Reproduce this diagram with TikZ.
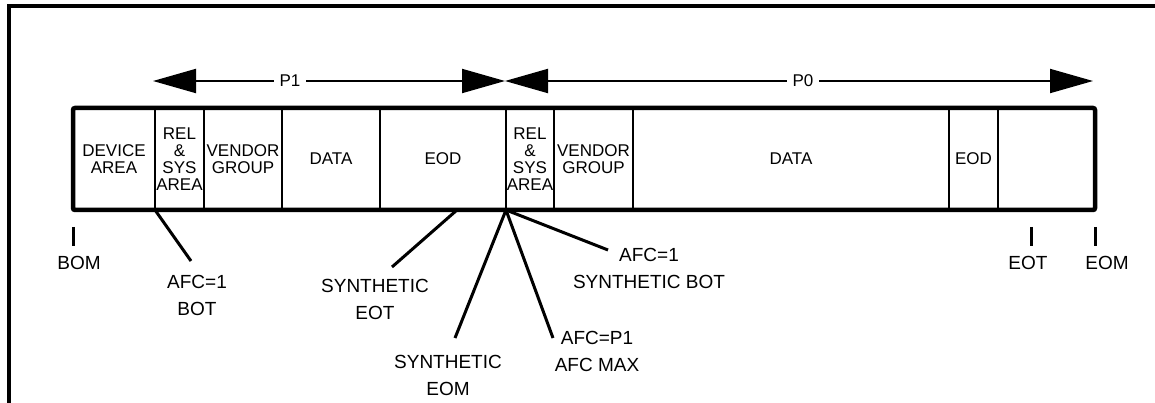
\documentclass[tikz,border=0pt]{standalone}
\usepackage{fontspec}
\setmainfont{Liberation Sans}
\usetikzlibrary{arrows.meta,positioning}

\begin{document}
\begin{tikzpicture}[x=1pt,y=-1pt,>={Triangle[length=43pt 0 0,width=24pt 0 0]},cell/.style={draw,line width=2.5pt,minimum height=102pt,inner sep=0pt,outer sep=0pt,align=center,font=\fontsize{17}{17}\selectfont},lbl/.style={inner sep=0pt,align=center,font=\fontsize{19}{27}\selectfont},plabel/.style={fill=white,inner xsep=6pt,inner ysep=2pt,font=\fontsize{17}{17}\selectfont},span/.style={<->,line width=2pt},leader/.style={line width=3pt},tick/.style={line width=3pt},frame/.style={line width=3.5pt}]
\useasboundingbox (0,0) rectangle (1155,403);
\draw[frame] (9,403) -- (9,6) -- (1160,6);
\coordinate (p1l) at (153,81); \coordinate (mid) at (505,81); \coordinate (p0r) at (1093,81);
\draw[span] (p1l)--(mid); \draw[span] (mid)--(p0r);
\node[plabel] (p1) at (290,81) {P1}; \node[plabel] (p0) at (803,81) {P0};
\node[cell,minimum width=82pt] (dev) at (114,159) {DEVICE\\AREA};
\node[cell,minimum width=49pt,right=0pt of dev] (rel1) {REL\\\&\\SYS\\AREA};
\node[cell,minimum width=78pt,right=0pt of rel1] (vend1) {VENDOR\\GROUP};
\node[cell,minimum width=98pt,right=0pt of vend1] (data1) {DATA};
\node[cell,minimum width=126pt,right=0pt of data1] (eod1) {EOD};
\node[cell,minimum width=48pt,right=0pt of eod1] (rel2) {REL\\\&\\SYS\\AREA};
\node[cell,minimum width=79pt,right=0pt of rel2] (vend2) {VENDOR\\GROUP};
\node[cell,minimum width=316pt,right=0pt of vend2] (data2) {DATA};
\node[cell,minimum width=49pt,right=0pt of data2] (eod2) {EOD};
\node[cell,minimum width=97pt,right=0pt of eod2] (tail) {};
\draw[line width=4.5pt,rounded corners=2pt] (dev.north west) rectangle (tail.south east);
\node[lbl] (bom) at (79,263) {BOM}; \node[lbl] (eot) at (1028,263) {EOT}; \node[lbl] (eom) at (1107,263) {EOM};
\coordinate (bomtick) at (73,227); \coordinate (eottick) at (1031,227); \coordinate (eomtick) at (1095,227);
\draw[tick] (bomtick)--++(0,19); \draw[tick] (eottick)--++(0,19); \draw[tick] (eomtick)--++(0,19);
\node[lbl] (afcbot) at (197,295.5) {AFC=1\\BOT};
\node[lbl] (syneot) at (375,299.5) {SYNTHETIC\\EOT};
\node[lbl] (syneom) at (448,375) {SYNTHETIC\\EOM};
\node[lbl] (afcmax) at (597,351.5) {AFC=P1\\AFC MAX};
\node[lbl] (synbot) at (649,268) {AFC=1\\SYNTHETIC BOT};
\coordinate (eotmark) at (457,210);
\coordinate (botend) at (191,261); \coordinate (eotend) at (392,267); \coordinate (eomend) at (455,338); \coordinate (maxend) at (553,338); \coordinate (sbotend) at (608,250);
\draw[leader] (rel1.south west)--(botend); \draw[leader] (eotmark)--(eotend);
\draw[leader] (rel2.south west)--(eomend); \draw[leader] (rel2.south west)--(maxend); \draw[leader] (rel2.south west)--(sbotend);
\end{tikzpicture}
\end{document}
